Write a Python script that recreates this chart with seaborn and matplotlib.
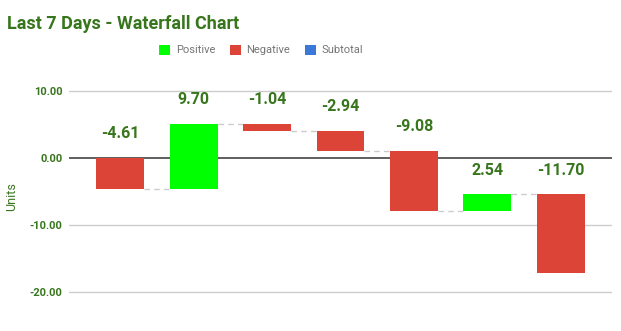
import numpy as np
import pandas as pd
import matplotlib
matplotlib.use("Agg")
import matplotlib.pyplot as plt
import seaborn as sns
from matplotlib.patches import Patch

# ---- data ----
days = ["Day 1", "Day 2", "Day 3", "Day 4", "Day 5", "Day 6", "Day 7"]
changes = [-4.61, 9.70, -1.04, -2.94, -9.08, 2.54, -11.70]
legend_labels = ["Positive", "Negative", "Subtotal"]
ytick_values = [10, 0, -10, -20]

# ---- derived ----
ends = np.cumsum(changes)
starts = ends - np.array(changes)
df = pd.DataFrame({"day": days, "change": changes, "start": starts})

GREEN = "#00ff00"
RED = "#db4437"
BLUE = "#3c78d8"
TXT = "#38761d"

sns.set_theme(style="white")
plt.rcParams["font.family"] = ["Roboto", "DejaVu Sans"]

fig = plt.figure(figsize=(6.21, 3.31), dpi=100)
ax = fig.add_axes([69/621, 1 - 305.4/331, (612-69)/621, (305.4-64.2)/331])

sns.barplot(data=df, x="day", y="change", bottom=df["start"], color=RED,
            width=0.653, errorbar=None, ax=ax, zorder=3, linewidth=0)
for patch, ch in zip(ax.patches, changes):
    patch.set_facecolor(GREEN if ch > 0 else RED)
    patch.set_edgecolor("none")

ax.set_xlim(-0.694, 6.694)
ax.set_ylim(-22, 14)

# gridlines
for v in ytick_values:
    if v == 0:
        ax.axhline(v, color="#333333", lw=1.1, zorder=2)
    else:
        ax.axhline(v, color="#cccccc", lw=1, zorder=1)

# connectors
hw = 0.653 / 2
for i in range(len(changes) - 1):
    ax.plot([i + hw, i + 1 - hw], [ends[i], ends[i]], color="#cccccc",
            lw=1, ls=(0, (4, 3)), zorder=2)

# value labels
for i, ch in enumerate(changes):
    top = max(starts[i], ends[i])
    ax.annotate(f"{ch:.2f}", xy=(i, top), xytext=(0, 17.5),
                textcoords="offset points", ha="center", va="center",
                fontsize=11.5, fontweight="bold", color=TXT, zorder=4)

ax.set_yticks(ytick_values)
ax.set_yticklabels([f"{v:.2f}" for v in ytick_values], color=TXT,
                   fontweight="bold", fontsize=8)
ax.tick_params(axis="y", length=0, pad=4.5)
ax.set_xticks([])
ax.set_xlabel("")
ax.set_ylabel("")
for s in ax.spines.values():
    s.set_visible(False)
ax.grid(False)

fig.text(12/621, 1 - 197/331, "Units", rotation=90, ha="center", va="center",
         color=TXT, fontsize=9)

fig.text(7/621, 1 - 29/331, "Last 7 Days - Waterfall Chart", ha="left",
         va="baseline", color=TXT, fontsize=13, fontweight="bold")

handles = [Patch(facecolor=c, edgecolor="none") for c in (GREEN, RED, BLUE)]
fig.legend(handles, legend_labels, loc="center", ncol=3,
           bbox_to_anchor=(261/621, 1 - 50/331), frameon=False,
           fontsize=8, labelcolor="#757575", handlelength=1.0,
           handleheight=1.0, handletextpad=0.5, columnspacing=1.3)

fig.savefig("out.png", dpi=100)
